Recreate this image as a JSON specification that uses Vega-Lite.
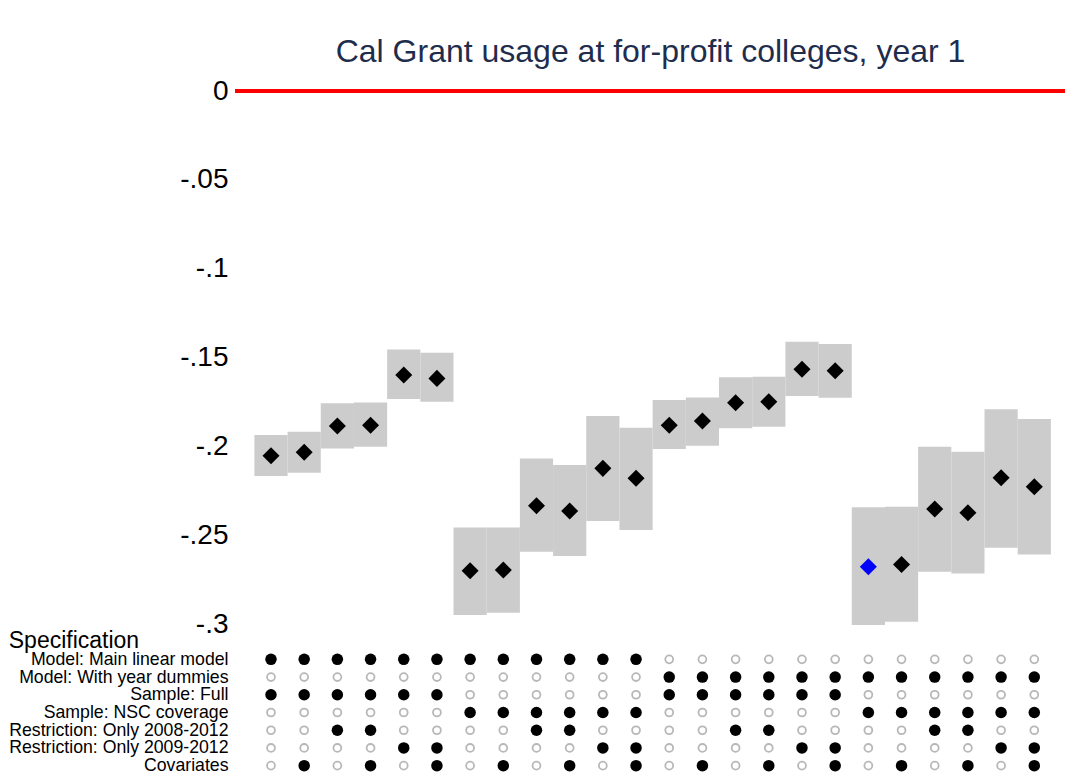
{
  "$schema": "https://vega.github.io/schema/vega-lite/v6.json",
  "padding": {"left": 8, "top": 36, "right": 0, "bottom": 0},
  "config": {"view": {"stroke": null}, "font": "Liberation Sans"},
  "bounds": "flush",
  "spacing": 25.5,
  "datasets": {
    "estimates": [
      {"idx": 1, "est": -0.2051, "lo": -0.2165, "hi": -0.1935, "hl": 0, "main": 1, "dummies": 0, "full": 1, "nsc": 0, "r0812": 0, "r0912": 0, "cov": 0},
      {"idx": 2, "est": -0.2032, "lo": -0.2147, "hi": -0.1916, "hl": 0, "main": 1, "dummies": 0, "full": 1, "nsc": 0, "r0812": 0, "r0912": 0, "cov": 1},
      {"idx": 3, "est": -0.1884, "lo": -0.2010, "hi": -0.1756, "hl": 0, "main": 1, "dummies": 0, "full": 1, "nsc": 0, "r0812": 1, "r0912": 0, "cov": 0},
      {"idx": 4, "est": -0.1879, "lo": -0.2001, "hi": -0.1751, "hl": 0, "main": 1, "dummies": 0, "full": 1, "nsc": 0, "r0812": 1, "r0912": 0, "cov": 1},
      {"idx": 5, "est": -0.1597, "lo": -0.1732, "hi": -0.1453, "hl": 0, "main": 1, "dummies": 0, "full": 1, "nsc": 0, "r0812": 0, "r0912": 1, "cov": 0},
      {"idx": 6, "est": -0.1616, "lo": -0.1747, "hi": -0.1472, "hl": 0, "main": 1, "dummies": 0, "full": 1, "nsc": 0, "r0812": 0, "r0912": 1, "cov": 1},
      {"idx": 7, "est": -0.2698, "lo": -0.2947, "hi": -0.2454, "hl": 0, "main": 1, "dummies": 0, "full": 0, "nsc": 1, "r0812": 0, "r0912": 0, "cov": 0},
      {"idx": 8, "est": -0.2694, "lo": -0.2934, "hi": -0.2454, "hl": 0, "main": 1, "dummies": 0, "full": 0, "nsc": 1, "r0812": 0, "r0912": 0, "cov": 1},
      {"idx": 9, "est": -0.2332, "lo": -0.2591, "hi": -0.2066, "hl": 0, "main": 1, "dummies": 0, "full": 0, "nsc": 1, "r0812": 1, "r0912": 0, "cov": 0},
      {"idx": 10, "est": -0.2362, "lo": -0.2615, "hi": -0.2103, "hl": 0, "main": 1, "dummies": 0, "full": 0, "nsc": 1, "r0812": 1, "r0912": 0, "cov": 1},
      {"idx": 11, "est": -0.2122, "lo": -0.2418, "hi": -0.1828, "hl": 0, "main": 1, "dummies": 0, "full": 0, "nsc": 1, "r0812": 0, "r0912": 1, "cov": 0},
      {"idx": 12, "est": -0.2178, "lo": -0.2469, "hi": -0.1894, "hl": 0, "main": 1, "dummies": 0, "full": 0, "nsc": 1, "r0812": 0, "r0912": 1, "cov": 1},
      {"idx": 13, "est": -0.1879, "lo": -0.2013, "hi": -0.1738, "hl": 0, "main": 0, "dummies": 1, "full": 1, "nsc": 0, "r0812": 0, "r0912": 0, "cov": 0},
      {"idx": 14, "est": -0.1856, "lo": -0.1995, "hi": -0.1723, "hl": 0, "main": 0, "dummies": 1, "full": 1, "nsc": 0, "r0812": 0, "r0912": 0, "cov": 1},
      {"idx": 15, "est": -0.1753, "lo": -0.1897, "hi": -0.1610, "hl": 0, "main": 0, "dummies": 1, "full": 1, "nsc": 0, "r0812": 1, "r0912": 0, "cov": 0},
      {"idx": 16, "est": -0.1747, "lo": -0.1888, "hi": -0.1607, "hl": 0, "main": 0, "dummies": 1, "full": 1, "nsc": 0, "r0812": 1, "r0912": 0, "cov": 1},
      {"idx": 17, "est": -0.1565, "lo": -0.1715, "hi": -0.1410, "hl": 0, "main": 0, "dummies": 1, "full": 1, "nsc": 0, "r0812": 0, "r0912": 1, "cov": 0},
      {"idx": 18, "est": -0.1573, "lo": -0.1725, "hi": -0.1423, "hl": 0, "main": 0, "dummies": 1, "full": 1, "nsc": 0, "r0812": 0, "r0912": 1, "cov": 1},
      {"idx": 19, "est": -0.2675, "lo": -0.3003, "hi": -0.2341, "hl": 1, "main": 0, "dummies": 1, "full": 0, "nsc": 1, "r0812": 0, "r0912": 0, "cov": 0},
      {"idx": 20, "est": -0.2662, "lo": -0.2985, "hi": -0.2338, "hl": 0, "main": 0, "dummies": 1, "full": 0, "nsc": 1, "r0812": 0, "r0912": 0, "cov": 1},
      {"idx": 21, "est": -0.2351, "lo": -0.2704, "hi": -0.2001, "hl": 0, "main": 0, "dummies": 1, "full": 0, "nsc": 1, "r0812": 1, "r0912": 0, "cov": 0},
      {"idx": 22, "est": -0.2372, "lo": -0.2713, "hi": -0.2029, "hl": 0, "main": 0, "dummies": 1, "full": 0, "nsc": 1, "r0812": 1, "r0912": 0, "cov": 1},
      {"idx": 23, "est": -0.2175, "lo": -0.2569, "hi": -0.1789, "hl": 0, "main": 0, "dummies": 1, "full": 0, "nsc": 1, "r0812": 0, "r0912": 1, "cov": 0},
      {"idx": 24, "est": -0.2226, "lo": -0.2606, "hi": -0.1845, "hl": 0, "main": 0, "dummies": 1, "full": 0, "nsc": 1, "r0812": 0, "r0912": 1, "cov": 1}
    ],
    "items": [
      {"key": "main", "label": "Model: Main linear model"},
      {"key": "dummies", "label": "Model: With year dummies"},
      {"key": "full", "label": "Sample: Full"},
      {"key": "nsc", "label": "Sample: NSC coverage"},
      {"key": "r0812", "label": "Restriction: Only 2008-2012"},
      {"key": "r0912", "label": "Restriction: Only 2009-2012"},
      {"key": "cov", "label": "Covariates"}
    ]
  },
  "vconcat": [
    {
      "width": 831,
      "height": 533.5,
      "title": {"text": "Cal Grant usage at for-profit colleges, year 1", "fontSize": 32, "fontWeight": "normal", "color": "#1f2d4d", "anchor": "middle", "frame": "group", "baseline": "alphabetic", "offset": -17},
      "data": {"name": "estimates"},
      "layer": [
        {
          "mark": {"type": "rect", "color": "#cccccc"},
          "encoding": {
            "x": {"field": "idx", "type": "ordinal", "scale": {"type": "band", "paddingInner": 0, "paddingOuter": 0.52, "align": 0.562}, "axis": null},
            "y": {"field": "hi", "type": "quantitative", "scale": {"domain": [-0.3, 0], "nice": false, "zero": false},
              "axis": {"values": [0, -0.05, -0.1, -0.15, -0.2, -0.25, -0.3], "labelExpr": "replace(replace(format(datum.value, '.2~f'), '\u2212', '-'), '0.', '.')", "domain": false, "ticks": false, "grid": false, "labelFontSize": 28, "labelColor": "black", "labelPadding": 7, "labelFlush": false, "labelOverlap": false, "labelLimit": 0, "title": null}},
            "y2": {"field": "lo"}
          }
        },
        {
          "mark": {"type": "rule", "color": "#ff0000", "strokeWidth": 2.5},
          "encoding": {"y": {"datum": 0, "type": "quantitative"}}
        },
        {
          "mark": {"type": "point", "shape": "diamond", "filled": true, "size": 290, "opacity": 1, "strokeWidth": 0},
          "encoding": {
            "x": {"field": "idx", "type": "ordinal"},
            "y": {"field": "est", "type": "quantitative"},
            "color": {"field": "hl", "type": "nominal", "scale": {"domain": [0, 1], "range": ["#000000", "#0000ff"]}, "legend": null}
          }
        }
      ]
    },
    {
      "width": 831,
      "height": 124,
      "title": {"text": "Specification", "fontSize": 23, "fontWeight": "normal", "color": "#000000", "anchor": "start", "frame": "bounds", "baseline": "alphabetic", "offset": -21},
      "data": {"name": "estimates"},
      "transform": [
        {"fold": ["main", "dummies", "full", "nsc", "r0812", "r0912", "cov"], "as": ["key", "on"]},
        {"lookup": "key", "from": {"data": {"name": "items"}, "key": "key", "fields": ["label"]}}
      ],
      "encoding": {
        "x": {"field": "idx", "type": "ordinal", "scale": {"type": "band", "paddingInner": 0, "paddingOuter": 0.52, "align": 0.562}, "axis": null},
        "y": {"field": "label", "type": "nominal",
          "sort": ["Model: Main linear model", "Model: With year dummies", "Sample: Full", "Sample: NSC coverage", "Restriction: Only 2008-2012", "Restriction: Only 2009-2012", "Covariates"],
          "scale": {"type": "point", "padding": 0.5},
          "axis": {"domain": false, "ticks": false, "grid": false, "labelFontSize": 17.7, "labelColor": "black", "labelPadding": 7, "labelLimit": 0, "labelOverlap": false, "title": null}}
      },
      "layer": [
        {
          "transform": [{"filter": {"field": "on", "equal": 0}}],
          "mark": {"type": "point", "shape": "circle", "filled": false, "color": "#b8b8b8", "strokeWidth": 1.8, "size": 62, "opacity": 1}
        },
        {
          "transform": [{"filter": {"field": "on", "equal": 1}}],
          "mark": {"type": "circle", "color": "#000000", "size": 132, "opacity": 1}
        }
      ]
    }
  ]
}
